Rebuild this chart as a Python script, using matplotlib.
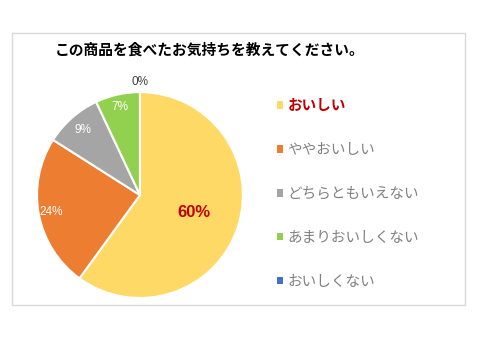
import matplotlib
matplotlib.use('Agg')
import matplotlib.pyplot as plt
from matplotlib.patches import Rectangle
import numpy as np

plt.rcParams['font.family'] = ['Noto Sans CJK JP', 'DejaVu Sans']

title = 'この商品を食べたお気持ちを教えてください。'
labels = ['おいしい', 'ややおいしい', 'どちらともいえない', 'あまりおいしくない', 'おいしくない']
values = [60, 24, 9, 7, 0]
colors = ['#FFD966', '#ED7D31', '#A5A5A5', '#92D050', '#4472C4']
pct_labels = ['60%', '24%', '9%', '7%', '0%']

# label styling per slice
label_dist = [0.55, 0.88, 0.84, 0.88, 1.1]
label_color = ['#C00000', 'white', 'white', 'white', '#404040']
label_size = [12, 8.5, 8.5, 8.5, 8.5]
label_weight = ['bold', 'normal', 'normal', 'normal', 'normal']


def plot_chart():
    fig = plt.figure(figsize=(4.8, 3.6), dpi=100)

    # chart frame
    fig.patches.append(Rectangle((12 / 480, 1 - 305 / 360), 453 / 480, 272 / 360,
                                 transform=fig.transFigure, fill=False,
                                 edgecolor='#D9D9D9', linewidth=1))

    fig.text(55 / 480, 1 - 50 / 360, title, fontsize=10.6, fontweight='bold',
             color='black', va='center', ha='left')

    ax = fig.add_axes([0.0771, 0.1722, 0.429, 0.572])
    wedges, _ = ax.pie(values, colors=colors, startangle=90, counterclock=False,
                       wedgeprops=dict(edgecolor='white', linewidth=1.5))
    ax.set_xlim(-1, 1)
    ax.set_ylim(-1, 1)
    ax.set_aspect('equal')
    ax.axis('off')

    for w, txt, d, c, s, fw in zip(wedges, pct_labels, label_dist, label_color,
                                   label_size, label_weight):
        ang = np.deg2rad((w.theta1 + w.theta2) / 2)
        ax.text(d * np.cos(ang), d * np.sin(ang), txt, color=c, fontsize=s,
                fontweight=fw, ha='center', va='center', family='Liberation Sans')

    leg = fig.legend(wedges, labels, loc='upper left',
                     bbox_to_anchor=(270 / 480, 1 - 90 / 360), frameon=False,
                     fontsize=10.5, handlelength=0.4, handleheight=0.4,
                     handletextpad=0.3, labelspacing=2.05, borderpad=0)
    for i, t in enumerate(leg.get_texts()):
        if i == 0:
            t.set_color('#C00000')
            t.set_fontweight('bold')
        else:
            t.set_color('#808080')
    for h in leg.legend_handles:
        h.set_edgecolor('none')

    fig.savefig('out.png', dpi=100)


if __name__ == '__main__':
    plot_chart()
